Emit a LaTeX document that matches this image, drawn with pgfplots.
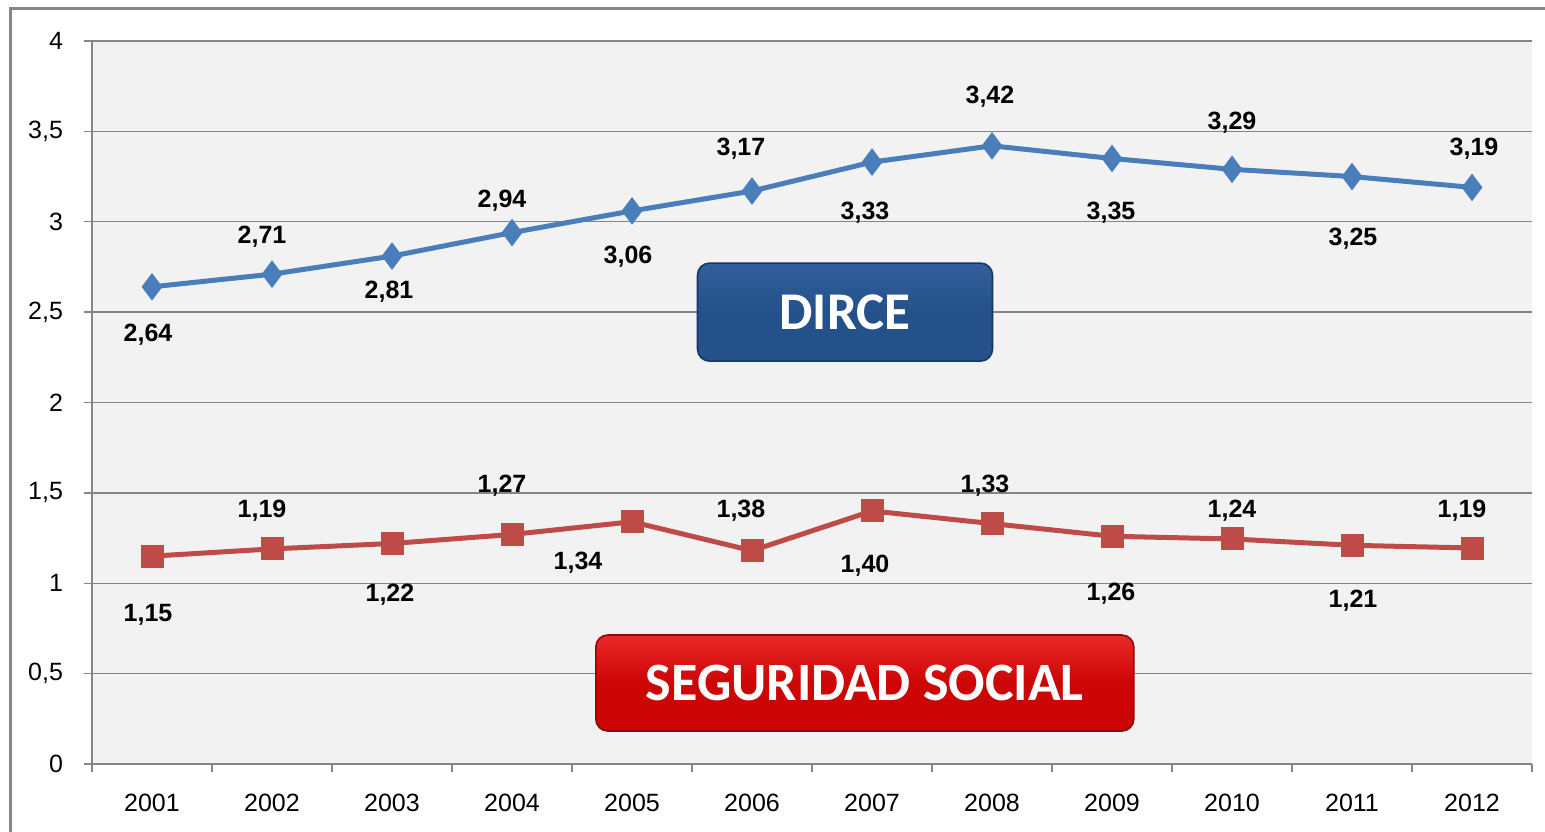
\documentclass[border=0pt]{standalone}
\usepackage{pgfplots}
\pgfplotsset{compat=1.18}
\usepackage{fontspec}
\setmainfont{Liberation Sans}
\newfontfamily\boxfont{Carlito}
\definecolor{gridgray}{HTML}{868686}
\definecolor{plotbg}{HTML}{F2F2F2}
\definecolor{dirceblue}{HTML}{4A7EBB}
\definecolor{ssred}{HTML}{BE4B48}
\definecolor{boxblue}{HTML}{25518A}
\definecolor{boxred}{HTML}{CC0505}
\begin{document}
\begin{tikzpicture}
\useasboundingbox (0,0) rectangle (772.5pt,415.5pt);
\begin{scope}
\clip (0,0) rectangle (772.5pt,415.5pt);
\draw[gridgray, line width=1.5pt] (5pt,-10pt) rectangle (790pt,411pt);
\end{scope}
\begin{axis}[
  at={(46pt,33.5pt)}, anchor=south west,
  scale only axis, width=720pt, height=361.5pt,
  xmin=0.5, xmax=12.5, ymin=0, ymax=4,
  axis x line*=bottom, axis y line*=left,
  axis line style={gridgray, line width=0.75pt},
  axis background/.style={fill=plotbg},
  ytick={0,0.5,...,4},
  ymajorgrids, grid style={gridgray, line width=0.75pt},
  xtick={0.5,1.5,...,12.5},
  x tick label as interval,
  xticklabels={2001,2002,2003,2004,2005,2006,2007,2008,2009,2010,2011,2012},
  tick align=outside, major tick length=4pt,
  tick style={gridgray, line width=0.75pt},
  /pgf/number format/assume math mode=true,
  /pgf/number format/use comma,
  ticklabel style={font=\fontsize{12.5}{14}\selectfont, text=black},
  yticklabel style={xshift=-7pt},
  xticklabel style={yshift=-7.5pt},
  clip=false,
]
\addplot[dirceblue, line width=2.5pt, mark=diamond*, mark size=6.5pt, mark options={fill=dirceblue, draw=dirceblue, line width=0.5pt}]
coordinates {(1,2.64) (2,2.71) (3,2.81) (4,2.94) (5,3.06) (6,3.17) (7,3.33) (8,3.42) (9,3.35) (10,3.29) (11,3.25) (12,3.19)};
\addplot[ssred, line width=2.5pt, mark=square*, mark size=5.5pt, mark options={fill=ssred, draw=ssred, line width=0.5pt}]
coordinates {(1,1.15) (2,1.19) (3,1.22) (4,1.27) (5,1.34) (6,1.18) (7,1.40) (8,1.33) (9,1.26) (10,1.245) (11,1.21) (12,1.195)};

\begin{scope}[every node/.style={font=\bfseries\fontsize{12.5}{14}\selectfont, text=black}]
\node at (axis cs:0.967,2.375) {2,64};
\node at (axis cs:1.917,2.917) {2,71};
\node at (axis cs:2.975,2.612) {2,81};
\node at (axis cs:3.917,3.116) {2,94};
\node at (axis cs:4.967,2.806) {3,06};
\node at (axis cs:5.908,3.404) {3,17};
\node at (axis cs:6.942,3.049) {3,33};
\node at (axis cs:7.983,3.691) {3,42};
\node at (axis cs:8.992,3.049) {3,35};
\node at (axis cs:10.0,3.547) {3,29};
\node at (axis cs:11.008,2.906) {3,25};
\node at (axis cs:12.017,3.404) {3,19};
\node at (axis cs:0.967,0.825) {1,15};
\node at (axis cs:1.917,1.401) {1,19};
\node at (axis cs:2.983,0.936) {1,22};
\node at (axis cs:3.917,1.539) {1,27};
\node at (axis cs:4.55,1.113) {1,34};
\node at (axis cs:5.908,1.401) {1,38};
\node at (axis cs:6.942,1.097) {1,40};
\node at (axis cs:7.942,1.539) {1,33};
\node at (axis cs:8.992,0.942) {1,26};
\node at (axis cs:10.0,1.401) {1,24};
\node at (axis cs:11.008,0.903) {1,21};
\node at (axis cs:11.917,1.401) {1,19};
\end{scope}

\node[draw={rgb,255:red,20;green,55;blue,100}, top color={rgb,255:red,50;green,95;blue,155}, bottom color=boxblue, middle color=boxblue, rounded corners=6pt, line width=0.8pt,
  minimum width=147.5pt, minimum height=49pt, text=white, font=\boxfont\bfseries\fontsize{26.5}{28}\selectfont]
  at (axis cs:6.775,2.50) {DIRCE};
\node[draw={rgb,255:red,140;green,10;blue,10}, top color={rgb,255:red,235;green,40;blue,40}, bottom color=boxred, middle color=boxred, rounded corners=6pt, line width=0.8pt,
  minimum width=269pt, minimum height=48pt, text=white, font=\boxfont\bfseries\fontsize{27}{29}\selectfont]
  at (axis cs:6.94,0.448) {SEGURIDAD SOCIAL};
\end{axis}
\end{tikzpicture}
\end{document}
